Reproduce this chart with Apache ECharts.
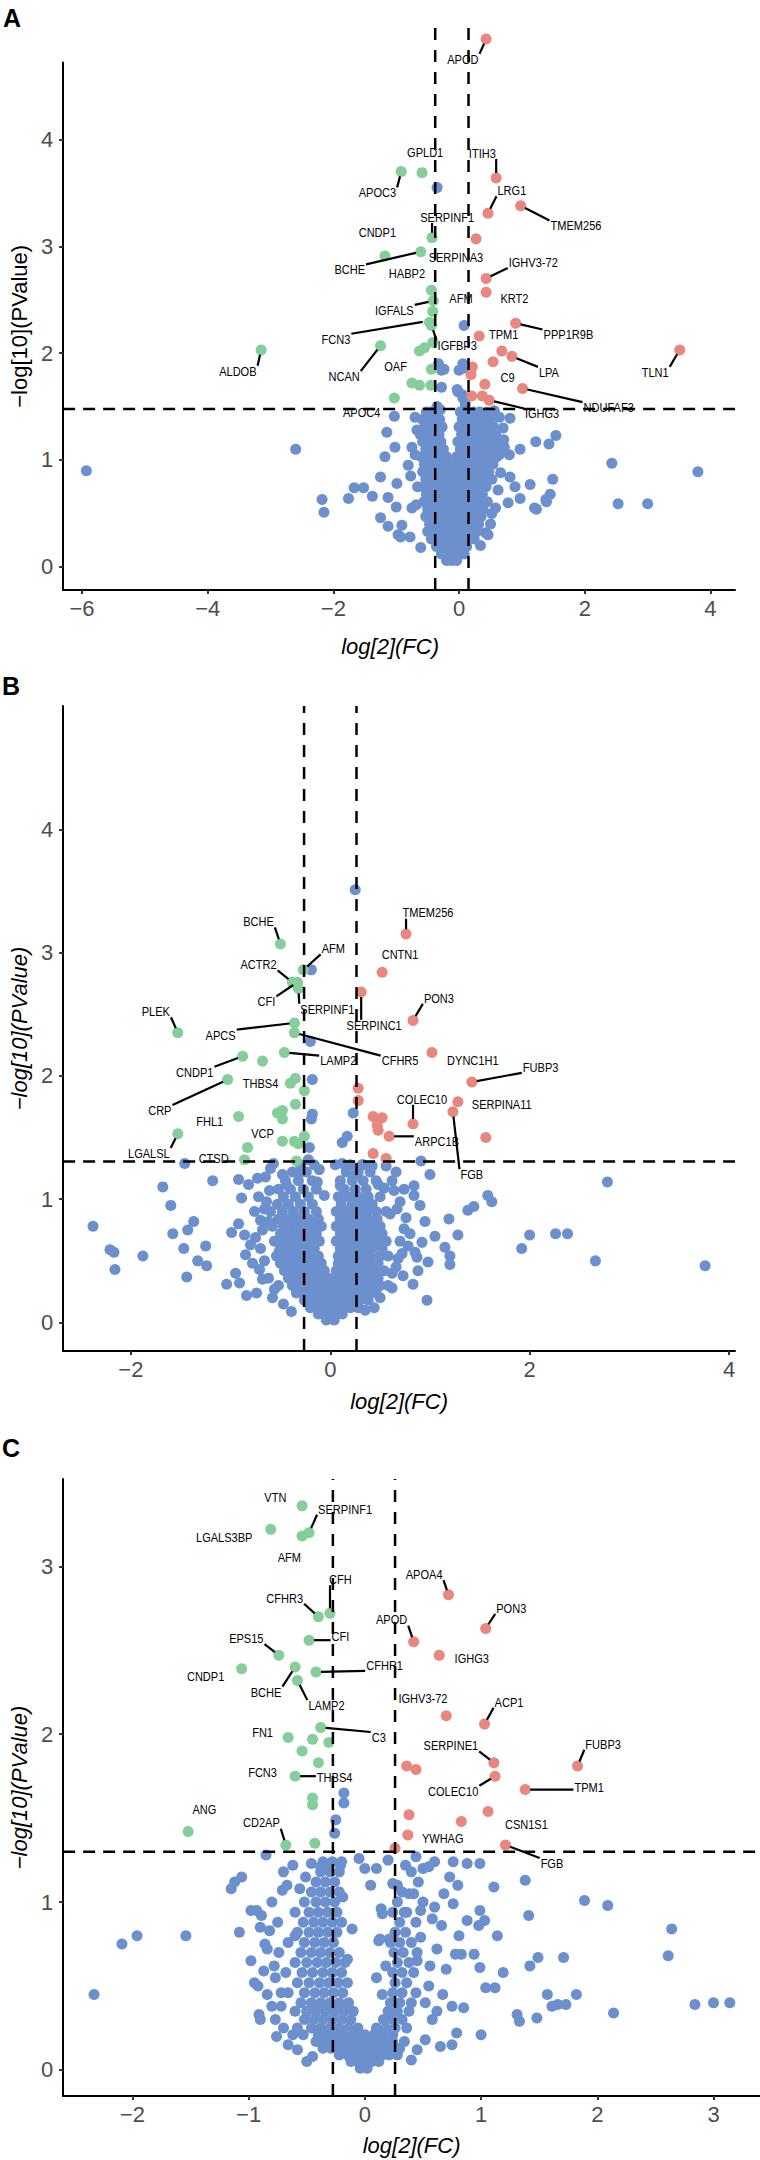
<!DOCTYPE html>
<html><head><meta charset="utf-8">
<script src="https://cdn.jsdelivr.net/npm/echarts@6/dist/echarts.min.js"></script>
<style>html,body{margin:0;padding:0;background:#fff}#c{width:760px;height:2160px}</style>
</head><body><div id="c"></div>
<script>
// ---------------- DATA ----------------
// Panel A
const redA = [[0.43,4.94],[0.59,3.64],[0.46,3.31],[0.98,3.38],[0.27,3.07],[0.43,2.70],[0.43,2.57],[0.90,2.28],[0.32,2.16],[0.68,2.02],[0.54,1.92],[0.84,1.97],[0.41,1.71],[1.01,1.67],[0.48,1.56],[3.51,2.03],[0.21,1.87],[0.19,1.80],[0.20,1.60],[0.37,1.60]];
const greenA = [[-0.59,3.69],[-0.92,3.70],[-0.43,3.08],[-1.18,2.91],[-0.61,2.95],[-0.44,2.59],[-0.41,2.49],[-0.42,2.39],[-0.47,2.29],[-0.44,2.26],[-0.42,2.10],[-0.63,2.02],[-0.55,2.05],[-0.44,1.85],[-0.75,1.72],[-0.63,1.70],[-0.45,1.70],[-1.03,1.58],[-1.25,2.07],[-3.15,2.03]];
const blueA = [[-0.35,3.55],[0.08,2.26],[-0.28,1.84],[0.08,1.86],[-0.28,1.68],[-0.03,1.66],[0.05,1.61],[-0.33,1.90],[-0.24,1.85],[0.06,1.90],[0.0,1.84],[-0.02,1.64],[0.06,1.58],[-0.35,1.50],[-0.30,1.47],[0.10,1.52],
[-5.93,0.90],[-2.60,1.10],[-2.18,0.63],[-2.15,0.51],[-1.76,0.64],[-1.67,0.74],[-1.52,0.74],[-1.38,0.66],[-1.13,0.65],[-1.25,0.46],[-1.13,0.38],[-1.00,0.56],[-0.99,0.78],[-1.25,0.84],[-1.18,1.03],[-1.02,1.12],[-1.15,1.26],[-1.03,1.41],[-0.77,0.85],[-0.91,0.39],[-0.97,0.30],[-0.75,0.55],[-0.61,0.18],[-0.93,0.28],[-0.78,0.28],[-0.75,1.12],[-0.81,0.95],[-0.70,1.40],
[2.43,0.97],[2.53,0.59],[3.00,0.59],[3.80,0.89],[1.54,1.23],[1.43,1.15],[1.22,1.17],[0.97,1.10],[0.71,1.19],[0.81,1.39],[0.81,0.84],[0.89,0.75],[1.13,0.77],[1.49,0.82],[1.38,0.63],[1.20,0.55],[0.78,0.60],[0.97,0.64],[0.52,0.50],[0.42,0.32],[0.34,0.20],[1.23,0.54],[1.39,0.61],[1.45,0.68],[0.80,1.05],[0.70,1.30],[0.64,1.40],
[-0.68,0.58],[-0.66,0.75],[-0.70,1.05],[-0.67,1.28],[0.62,0.72],[0.66,0.88],[0.64,1.05],[0.58,0.55],[0.50,0.40],[0.46,0.30],[0.72,1.12],[0.56,1.46]];
// dense core of panel A: [y, [x values]]
const coreA = [
 [1.45,[-0.52,-0.44,-0.37,0.02,0.12,0.22,0.33,0.45]],
 [1.38,[-0.58,-0.47,-0.40,-0.31,0.05,0.16,0.26,0.38,0.50]],
 [1.31,[-0.55,-0.45,-0.36,-0.27,0.0,0.10,0.20,0.30,0.42,0.55]],
 [1.24,[-0.62,-0.50,-0.41,-0.32,0.04,0.14,0.24,0.34,0.46,0.58]],
 [1.17,[-0.58,-0.47,-0.38,-0.29,-0.02,0.08,0.18,0.28,0.40,0.52,0.62]],
 [1.10,[-0.53,-0.43,-0.34,-0.25,0.02,0.12,0.22,0.33,0.45,0.56]],
 [1.03,[-0.60,-0.48,-0.39,-0.30,-0.20,-0.04,0.06,0.16,0.26,0.37,0.49,0.60]],
 [0.96,[-0.55,-0.44,-0.35,-0.26,-0.15,0.0,0.10,0.20,0.30,0.42,0.54]],
 [0.89,[-0.58,-0.49,-0.40,-0.31,-0.21,-0.10,0.04,0.14,0.24,0.35,0.47]],
 [0.82,[-0.53,-0.44,-0.35,-0.26,-0.16,-0.06,0.06,0.17,0.28,0.40,0.52]],
 [0.75,[-0.57,-0.47,-0.38,-0.29,-0.20,-0.10,0.0,0.10,0.20,0.31,0.43]],
 [0.68,[-0.52,-0.42,-0.33,-0.24,-0.14,-0.04,0.06,0.16,0.26,0.37]],
 [0.61,[-0.56,-0.46,-0.37,-0.28,-0.18,-0.08,0.02,0.12,0.22,0.33,0.45]],
 [0.54,[-0.50,-0.40,-0.31,-0.22,-0.12,-0.02,0.08,0.18,0.28,0.38]],
 [0.47,[-0.53,-0.43,-0.34,-0.25,-0.15,-0.05,0.05,0.15,0.25,0.35]],
 [0.40,[-0.47,-0.37,-0.28,-0.19,-0.09,0.01,0.11,0.21,0.31]],
 [0.33,[-0.50,-0.40,-0.31,-0.22,-0.12,-0.02,0.08,0.18,0.28]],
 [0.26,[-0.44,-0.34,-0.25,-0.16,-0.06,0.04,0.14,0.24]],
 [0.19,[-0.36,-0.27,-0.18,-0.08,0.02,0.12]],
 [0.12,[-0.28,-0.19,-0.10,0.0,0.08]],
 [0.06,[-0.20,-0.12,-0.04]]];
const labelsA = [
 ["APOD",0.43,4.94,0.06,4.75,1],["GPLD1",-0.59,3.69,-0.54,3.88,0],["APOC3",-0.92,3.70,-1.30,3.50,1],
 ["ITIH3",0.59,3.64,0.37,3.87,1],["LRG1",0.46,3.31,0.84,3.52,1],["TMEM256",0.98,3.38,1.86,3.19,1],
 ["SERPINF1",-0.43,3.08,-0.19,3.27,1],["CNDP1",-1.18,2.91,-1.30,3.13,0],["BCHE",-0.61,2.95,-1.74,2.78,1],
 ["HABP2",-0.83,2.74,-0.83,2.74,0],["SERPINA3",-0.05,2.89,-0.05,2.89,0],["IGHV3-72",0.43,2.70,1.18,2.85,1],
 ["AFM",0.03,2.51,0.03,2.51,0],["KRT2",0.88,2.51,0.88,2.51,0],["IGFALS",-0.41,2.49,-1.03,2.40,1],
 ["FCN3",-0.50,2.30,-1.96,2.13,1],["PPP1R9B",0.90,2.28,1.74,2.17,1],["TPM1",0.71,2.17,0.71,2.17,0],
 ["IGFBP3",-0.44,2.26,-0.03,2.07,1],["ALDOB",-3.15,2.03,-3.52,1.83,1],["NCAN",-1.25,2.07,-1.83,1.78,1],
 ["OAF",-1.01,1.87,-1.01,1.87,0],["LPA",0.84,1.97,1.43,1.82,1],["C9",0.77,1.77,0.77,1.77,0],
 ["TLN1",3.51,2.03,3.12,1.82,1],["NDUFAF3",1.01,1.67,2.38,1.49,1],["APOC4",-1.55,1.44,-1.55,1.44,0],
 ["IGHG3",0.48,1.56,1.32,1.43,1]];
// Panel B
const redB = [[0.76,3.15],[0.52,2.84],[0.31,2.68],[0.83,2.45],[1.02,2.19],[1.42,1.95],[1.28,1.79],[1.23,1.71],[0.83,1.61],[0.59,1.51],[0.28,1.90],[0.28,1.80],[0.43,1.67],[0.52,1.66],[0.47,1.60],[0.48,1.56],[1.56,1.50],[0.43,1.37],[0.56,1.33]];
const greenB = [[-0.50,3.07],[-0.27,2.86],[-0.38,2.76],[-0.33,2.76],[-0.32,2.71],[-1.53,2.35],[-0.36,2.43],[-0.36,2.35],[-0.46,2.19],[-0.88,2.16],[-0.68,2.12],[-1.03,1.97],[-0.35,1.98],[-0.40,1.94],[-0.26,1.88],[-0.35,1.77],[-0.53,1.70],[-0.48,1.72],[-0.48,1.65],[-0.92,1.67],[-1.53,1.53],[-0.48,1.47],[-0.36,1.47],[-0.32,1.45],[-0.26,1.51],[-0.83,1.42],[-0.86,1.32],[-0.34,1.31]];
const blueB = [[0.25,3.51],[-0.19,2.86],[-0.20,2.28],[-0.18,1.97],[-0.18,1.69],[-0.19,1.65],[0.23,1.70],[0.17,1.51],[0.12,1.46],[-0.21,1.42],[-0.22,1.32],[0.91,1.31],
[-2.38,0.78],[-2.21,0.59],[-2.17,0.57],[-2.16,0.43],[-1.88,0.54],[-1.68,1.10],[-1.60,0.95],[-1.58,0.72],[-1.47,0.60],[-1.44,0.37],[-1.43,0.75],[-1.37,0.82],[-1.46,1.29],[-1.33,0.50],[-1.25,0.62],[-1.24,0.46],[-1.18,1.15],[-1.04,0.31],[-0.99,0.73],[-0.92,0.80],[-0.91,0.32],[-0.92,1.16],[-0.89,1.01],[-0.86,0.71],[-0.80,0.63],[-0.75,0.69],[-0.74,0.24],[-0.73,1.17],[-0.71,0.43],[-0.70,0.83],[-0.66,0.92],[-0.61,1.07],[-0.57,1.29],[-0.56,0.27],[-0.51,0.58],[-0.48,1.20],[-0.44,1.12],[-0.39,0.09],[-0.32,1.20],[-0.66,0.50],[-0.62,0.36],
[2.78,1.14],[2.66,0.50],[3.76,0.46],[2.26,0.72],[2.38,0.72],[2.00,0.71],[1.92,0.60],[1.62,0.98],[1.58,1.03],[1.44,0.94],[1.38,0.91],[1.28,0.71],[1.19,0.84],[1.20,0.47],[1.15,0.61],[1.20,0.54],[0.97,0.18],[0.98,0.49],[0.87,0.53],[0.85,0.57],[1.00,1.20],[0.84,1.11],[0.84,1.03],[0.83,0.31],[0.73,0.38],[0.67,0.92],[0.64,1.07],[0.56,1.27],[0.42,1.27],[0.48,1.12],[0.54,1.09],[0.12,1.29],[0.10,1.11],[0.25,1.20],[-0.11,1.24],[-0.13,1.14],[-0.06,1.03],[0.70,0.66],[0.74,0.76],[0.62,0.28],[0.66,0.45],[0.72,0.56],
[-0.95,0.40],[-0.85,0.55],[-0.78,0.48],[-0.70,0.60],[-0.68,0.75],[-0.76,0.90],[-0.82,1.12],[-0.65,1.18],[-0.60,1.25],[-0.72,1.02],[-0.64,0.98],[-0.58,0.20],[-0.52,0.30],[-0.47,0.15],[-0.68,0.35],[-0.84,0.22],[-0.62,0.82],
[0.62,0.40],[0.68,0.52],[0.78,0.62],[0.76,0.85],[0.70,0.98],[0.62,1.15],[0.58,0.30],[0.50,0.20],[0.44,0.12],[0.80,0.72],[0.90,0.95],[0.92,0.65],[0.66,1.22],[0.54,0.66],[0.60,0.88],[0.74,1.08],[0.35,0.10],[0.32,1.28],[0.88,0.42],[0.95,0.82],[1.05,0.70]];
const coreB = [
 [0.02,[-0.04,0.04]],
 [0.07,[-0.12,-0.04,0.04,0.12]],
 [0.12,[-0.20,-0.12,-0.04,0.04,0.12,0.20,0.28]],
 [0.18,[-0.26,-0.18,-0.10,-0.02,0.06,0.14,0.22,0.30,0.38]],
 [0.24,[-0.34,-0.26,-0.18,-0.10,-0.02,0.06,0.14,0.22,0.30,0.38,0.46]],
 [0.30,[-0.38,-0.30,-0.22,-0.14,-0.06,0.02,0.10,0.18,0.26,0.34,0.42,0.50]],
 [0.36,[-0.42,-0.34,-0.26,-0.18,-0.10,-0.02,0.08,0.16,0.24,0.32,0.40,0.48]],
 [0.42,[-0.46,-0.38,-0.30,-0.22,-0.14,-0.06,0.06,0.14,0.22,0.30,0.38,0.46,0.54]],
 [0.48,[-0.50,-0.42,-0.34,-0.26,-0.18,-0.09,0.08,0.16,0.24,0.32,0.40,0.48]],
 [0.54,[-0.54,-0.45,-0.37,-0.29,-0.21,-0.12,0.08,0.16,0.24,0.32,0.40,0.50,0.58]],
 [0.60,[-0.50,-0.41,-0.33,-0.25,-0.16,0.10,0.18,0.26,0.34,0.42,0.52]],
 [0.66,[-0.56,-0.46,-0.37,-0.29,-0.20,-0.11,0.06,0.14,0.22,0.30,0.38,0.47,0.56]],
 [0.72,[-0.50,-0.41,-0.32,-0.23,-0.14,0.10,0.18,0.26,0.34,0.43,0.52]],
 [0.78,[-0.58,-0.47,-0.37,-0.28,-0.18,-0.09,0.06,0.15,0.24,0.33,0.42,0.50]],
 [0.84,[-0.52,-0.42,-0.32,-0.22,-0.12,0.10,0.20,0.29,0.38,0.47]],
 [0.90,[-0.60,-0.48,-0.37,-0.26,-0.14,0.06,0.16,0.26,0.36,0.46,0.56]],
 [0.96,[-0.53,-0.42,-0.30,-0.18,0.11,0.22,0.32,0.42]],
 [1.02,[-0.47,-0.35,-0.22,0.08,0.18,0.28,0.38,0.50]],
 [1.08,[-0.52,-0.40,-0.27,-0.14,0.14,0.25,0.36]],
 [1.15,[-0.45,-0.32,-0.18,0.10,0.22,0.33,0.46]],
 [1.22,[-0.38,-0.24,0.16,0.28,0.40]],
 [1.28,[-0.30,-0.16,0.05,0.20,0.33]]];
const labelsB = [
 ["TMEM256",0.76,3.15,0.98,3.32,1],["BCHE",-0.50,3.07,-0.72,3.25,1],["CNTN1",0.52,2.84,0.70,2.98,0],
 ["AFM",-0.27,2.86,0.03,3.03,1],["ACTR2",-0.38,2.76,-0.72,2.90,1],["CFI",-0.33,2.76,-0.64,2.60,1],
 ["SERPINF1",-0.32,2.71,-0.03,2.54,1],["SERPINC1",0.31,2.68,0.44,2.41,1],["PON3",0.83,2.45,1.09,2.63,1],
 ["PLEK",-1.53,2.35,-1.75,2.52,1],["APCS",-0.36,2.43,-1.10,2.33,1],["CFHR5",-0.36,2.35,0.70,2.12,1],
 ["LAMP2",-0.46,2.19,0.08,2.12,1],["DYNC1H1",1.43,2.12,1.43,2.12,0],["FUBP3",1.42,1.95,2.11,2.07,1],
 ["CNDP1",-0.88,2.16,-1.36,2.03,1],["THBS4",-0.70,1.94,-0.70,1.94,0],["CRP",-1.03,1.97,-1.71,1.72,1],
 ["COLEC10",0.83,1.61,0.92,1.81,1],["SERPINA11",1.72,1.77,1.72,1.77,0],["FHL1",-1.21,1.63,-1.21,1.63,0],
 ["VCP",-0.68,1.53,-0.68,1.53,0],["ARPC1B",0.59,1.51,1.07,1.47,1],["LGALSL",-1.53,1.53,-1.82,1.37,1],
 ["CTSD",-1.17,1.33,-1.17,1.33,0],["FGB",1.23,1.71,1.42,1.20,1]];
// Panel C
const redC = [[0.72,2.83],[1.04,2.63],[0.42,2.55],[0.64,2.47],[0.70,2.11],[1.03,2.06],[1.11,1.83],[1.83,1.81],[1.12,1.75],[1.38,1.67],[0.36,1.81],[0.44,1.79],[0.38,1.52],[0.83,1.48],[1.06,1.54],[0.37,1.40],[0.26,1.32],[1.21,1.34]];
const greenC = [[-0.54,3.36],[-0.48,3.20],[-0.81,3.22],[-0.54,3.18],[-0.30,2.72],[-0.40,2.70],[-0.48,2.56],[-0.74,2.47],[-1.06,2.39],[-0.42,2.37],[-0.60,2.40],[-0.58,2.32],[-0.66,1.98],[-0.38,2.04],[-0.45,1.97],[-0.31,1.95],[-0.54,1.90],[-0.40,1.83],[-0.60,1.75],[-0.45,1.62],[-0.45,1.58],[-1.52,1.42],[-0.68,1.34],[-0.43,1.35]];
const blueC = [[-0.18,1.65],[-0.18,1.59],[-0.25,1.49],[-0.26,1.41],
[-2.33,0.45],[-2.09,0.75],[-1.96,0.80],[-1.54,0.80],[-1.08,0.82],[-1.15,1.08],[-1.12,1.12],[-1.06,1.15],[-0.85,1.28],[-0.93,0.95],[-0.89,0.92],[-0.82,0.83],[-0.86,0.75],[-0.87,0.59],[-0.77,0.55],[-0.91,0.33],[-0.90,0.30],[-0.77,0.30],[-0.80,0.38],[-0.62,0.21],[-0.53,0.21],[-0.71,1.07],[-0.67,1.10],[-0.56,1.08],[-0.51,1.15],[-0.46,1.23],[-0.38,1.21],[-0.32,1.22],[-0.21,1.22],[-0.19,1.03],[-0.11,0.84],[-0.15,0.66],[-0.74,0.70],[-0.72,0.46],[-0.95,0.52],[-0.98,0.65],
[3.14,0.40],[3.00,0.40],[2.84,0.39],[2.64,0.84],[2.61,0.68],[2.14,0.34],[2.09,0.98],[1.89,1.01],[1.82,0.45],[1.73,0.39],[1.66,0.39],[1.61,0.38],[1.57,0.45],[1.71,0.67],[1.49,0.67],[1.42,0.62],[1.48,0.31],[1.33,0.29],[1.31,0.33],[1.19,0.58],[1.41,0.92],[1.38,1.13],[1.11,1.09],[1.14,0.80],[1.12,0.49],[1.04,0.49],[1.00,0.21],[0.99,0.61],[0.94,0.69],[0.99,0.95],[1.03,0.89],[0.98,0.86],[0.88,0.89],[0.81,0.80],[0.78,0.69],[0.83,0.69],[0.76,0.99],[0.80,1.10],[0.73,1.15],[0.76,1.24],[0.88,1.23],[0.99,1.23],[0.60,1.24],[0.50,1.00],[0.48,0.79],[0.60,0.97],[0.66,0.86],[0.67,0.45],[0.75,0.38],[0.85,0.37],[0.79,0.22],[0.65,0.14],[0.75,0.15],[0.44,1.27],[0.50,1.20],[0.55,1.21],[0.38,1.05],[0.42,1.05],[0.24,1.11],[0.14,0.96],[0.15,0.93],[0.12,0.77],[0.34,0.94],[0.13,0.78],[0.21,0.78],[0.56,0.62],[0.58,0.30],[0.52,0.18],
[-0.98,0.95],[-0.90,0.85],[-0.84,0.72],[-0.78,0.62],[-0.92,0.50],[-0.84,0.45],[-0.72,0.38],[-0.70,0.25],[-0.66,0.15],[-0.58,0.12],[-0.80,1.00],[-0.75,0.88],[-0.70,1.18],[-0.62,1.22],[-0.60,0.80],[-0.68,0.58],[-0.76,0.20],[-0.50,0.05],[-0.45,0.08],
[0.45,0.12],[0.40,0.06],[0.52,0.40],[0.55,0.50],[0.62,0.72],[0.58,0.90],[0.68,1.05],[0.70,0.60],[0.62,0.35],[0.45,0.65],[0.48,0.95],[0.40,1.18],[0.35,1.22],[0.28,1.10],[0.20,1.25],[0.10,1.20],[0.05,1.10],[0.00,1.20],[-0.05,1.26],[0.18,0.62],[0.15,0.45],[0.10,0.55]];
const coreC = [
 [0.01,[-0.04,0.02]],
 [0.05,[-0.12,-0.06,0.0,0.06,0.12]],
 [0.09,[-0.22,-0.15,-0.09,-0.03,0.03,0.09,0.15,0.21,0.28]],
 [0.13,[-0.36,-0.29,-0.22,-0.15,-0.09,-0.03,0.03,0.09,0.15,0.22,0.30]],
 [0.17,[-0.42,-0.34,-0.26,-0.19,-0.12,-0.05,0.02,0.09,0.16,0.24,0.34]],
 [0.21,[-0.40,-0.32,-0.24,-0.16,-0.08,0.0,0.08,0.16,0.24]],
 [0.25,[-0.58,-0.46,-0.38,-0.30,-0.22,-0.14,-0.06,0.10,0.18,0.26,0.36]],
 [0.30,[-0.52,-0.44,-0.36,-0.28,-0.20,-0.12,0.16,0.24,0.32]],
 [0.35,[-0.60,-0.50,-0.42,-0.34,-0.26,-0.18,-0.10,0.20,0.28,0.38]],
 [0.40,[-0.55,-0.46,-0.38,-0.30,-0.22,-0.14,0.22,0.30,0.40]],
 [0.46,[-0.66,-0.52,-0.43,-0.35,-0.27,-0.19,0.24,0.32,0.44]],
 [0.52,[-0.58,-0.48,-0.39,-0.31,-0.23,-0.15,0.26,0.36]],
 [0.58,[-0.54,-0.45,-0.36,-0.28,-0.20,0.24,0.32,0.42]],
 [0.64,[-0.60,-0.50,-0.41,-0.33,-0.25,-0.17,0.28,0.38]],
 [0.70,[-0.55,-0.46,-0.38,-0.30,-0.22,0.25,0.33,0.45]],
 [0.76,[-0.66,-0.52,-0.43,-0.35,-0.27,0.22,0.30,0.40]],
 [0.82,[-0.58,-0.48,-0.40,-0.32,-0.24,0.26,0.35]],
 [0.88,[-0.53,-0.44,-0.36,-0.28,-0.20,0.30,0.44]],
 [0.94,[-0.60,-0.48,-0.40,-0.32,-0.24,0.24,0.36]],
 [1.00,[-0.52,-0.42,-0.34,-0.26,0.28]],
 [1.06,[-0.46,-0.38,-0.30,-0.22,0.32]],
 [1.12,[-0.42,-0.34,-0.26,0.46]],
 [1.18,[-0.38,-0.30,-0.22]],
 [1.24,[-0.36,-0.28,-0.20]]];
const labelsC = [
 ["VTN",-0.54,3.36,-0.77,3.41,0],["SERPINF1",-0.48,3.20,-0.17,3.34,1],["LGALS3BP",-0.81,3.22,-1.21,3.17,0],
 ["AFM",-0.54,3.18,-0.65,3.05,0],["CFH",-0.30,2.72,-0.21,2.92,1],["CFHR3",-0.40,2.70,-0.69,2.81,1],
 ["CFI",-0.48,2.56,-0.21,2.58,1],["EPS15",-0.74,2.47,-1.02,2.57,1],["CNDP1",-1.06,2.39,-1.37,2.34,0],
 ["CFHR1",-0.42,2.37,0.17,2.41,1],["BCHE",-0.60,2.40,-0.85,2.25,1],["LAMP2",-0.58,2.32,-0.33,2.17,1],
 ["FN1",-0.66,1.98,-0.88,2.01,0],["C3",-0.38,2.04,0.12,1.98,1],["FCN3",-0.88,1.77,-0.88,1.77,0],
 ["THBS4",-0.60,1.75,-0.26,1.74,1],["ANG",-1.52,1.42,-1.38,1.55,0],["CD2AP",-0.68,1.34,-0.89,1.47,1],
 ["APOA4",0.72,2.83,0.51,2.95,1],["PON3",1.04,2.63,1.26,2.75,1],["APOD",0.42,2.55,0.23,2.68,1],
 ["IGHG3",0.64,2.47,0.92,2.45,0],["IGHV3-72",0.70,2.11,0.50,2.21,0],["ACP1",1.03,2.06,1.24,2.19,1],
 ["SERPINE1",1.11,1.83,0.74,1.93,1],["FUBP3",1.83,1.81,2.05,1.94,1],["COLEC10",1.12,1.75,0.76,1.66,1],
 ["TPM1",1.38,1.67,1.93,1.68,1],["CSN1S1",1.39,1.46,1.39,1.46,0],["YWHAG",0.67,1.38,0.67,1.38,0],
 ["FGB",1.21,1.34,1.61,1.23,1]];
// thresholds [low log2FC, high log2FC, -log10 p]
const thrA = [-0.38, 0.15, 1.477];
const thrB = [-0.263, 0.263, 1.305];
const thrC = [-0.275, 0.26, 1.30];
// tick labels
const xTicksA = [-6,-4,-2,0,2,4], yTicksA = [0,1,2,3,4];
const xTicksB = [-2,0,2,4],       yTicksB = [0,1,2,3,4];
const xTicksC = [-2,-1,0,1,2,3],  yTicksC = [0,1,2,3];

// ---------------- LAYOUT / STYLE ----------------
const FONT = '"Liberation Sans", Arial, Helvetica, sans-serif';
const COL = {red:'#E8877E', green:'#86CE99', blue:'#6B90CD'};
const rows = core => core.flatMap(r => r[1].map(x => [x, r[0]]));
const panels = [
 {grid:{left:53, top:62.6, width:682, height:527.4}, xr:[-6.30,4.39], yr:[-0.217,4.72], vTop:5.10, xt:xTicksA, yt:yTicksA, red:redA, green:greenA, blue:blueA.concat(rows(coreA)), labels:labelsA, thr:thrA, yItalic:false, xGap:45, xPad:[0,18,0,0]},
 {grid:{left:52, top:706, width:683, height:645}, xr:[-2.68,4.06], yr:[-0.231,5.0], vTop:5.0, xt:xTicksB, yt:yTicksB, red:redB, green:greenB, blue:blueB.concat(rows(coreB)), labels:labelsB, thr:thrB, yItalic:true, xGap:39, xPad:[0,0,0,0]},
 {grid:{left:51, top:1479, width:709, height:617}, xr:[-2.596,3.40], yr:[-0.155,3.52], vTop:3.52, xt:xTicksC, yt:yTicksC, red:redC, green:greenC, blue:blueC.concat(rows(coreC)), labels:labelsC, thr:thrC, yItalic:true, xGap:38, xPad:[0,0,0,0]}
];
const fmt = v => (v < 0 ? '\u2212' + Math.abs(v) : String(v));
const LFS = 13, LSX = 0.85;
const mctx = document.createElement('canvas').getContext('2d');
mctx.font = LFS + 'px ' + FONT;

const grids = [], xAxes = [], yAxes = [], series = [];
panels.forEach((p, i) => {
  grids.push(Object.assign({containLabel:false}, p.grid));
  xAxes.push({gridIndex:i, type:'value', min:p.xr[0], max:p.xr[1],
    splitLine:{show:false},
    axisLine:{onZero:false, lineStyle:{color:'#000', width:2}},
    axisTick:{length:4, lineStyle:{color:'#333', width:2}, customValues:p.xt},
    axisLabel:{customValues:p.xt, formatter:fmt, fontSize:22, color:'#4D4D4D', fontFamily:FONT, margin:7},
    name:'log[2](FC)', nameLocation:'middle', nameGap:p.xGap,
    nameTextStyle:{fontSize:22, fontStyle:'italic', color:'#000', fontFamily:FONT, padding:p.xPad}});
  yAxes.push({gridIndex:i, type:'value', min:p.yr[0], max:p.yr[1],
    splitLine:{show:false},
    axisLine:{onZero:false, lineStyle:{color:'#000', width:2}},
    axisTick:{length:4, lineStyle:{color:'#333', width:2}, customValues:p.yt},
    axisLabel:{customValues:p.yt, formatter:fmt, fontSize:22, color:'#4D4D4D', fontFamily:FONT, margin:10},
    name:'\u2212log[10](PValue)', nameLocation:'middle', nameGap:26, nameRotate:90,
    nameTextStyle:{fontSize:22, fontStyle:p.yItalic?'italic':'normal', color:'#000', fontFamily:FONT}});
  [['blue',p.blue],['green',p.green],['red',p.red]].forEach(([c, d]) => {
    series.push({type:'scatter', xAxisIndex:i, yAxisIndex:i, data:d, symbolSize:11, clip:false, silent:true,
      itemStyle:{color:COL[c], opacity:1}});
  });
  const dashV = {color:'#000', width:2.5, type:[12,10]};
  const dashH = {color:'#000', width:2.5, type:[12,8]};
  const lines = [
    [[p.thr[0], p.yr[0]], [p.thr[0], p.vTop], dashV],
    [[p.thr[1], p.yr[0]], [p.thr[1], p.vTop], dashV],
    [[p.xr[0], p.thr[2]], [p.xr[1], p.thr[2]], dashH]];
  lines.forEach(l => series.push({type:'line', xAxisIndex:i, yAxisIndex:i, data:[l[0], l[1]], symbol:'none',
    clip:false, silent:true, z:3, lineStyle:l[2]}));
  const labs = p.labels;
  series.push({type:'custom', xAxisIndex:i, yAxisIndex:i, clip:false, silent:true, z:5,
    data: labs.map(l => [l[1], l[2], l[3], l[4]]),
    renderItem: (params, api) => {
      const l = labs[params.dataIndex];
      const pt = api.coord([api.value(0), api.value(1)]);
      const tc = api.coord([api.value(2), api.value(3)]);
      const w = mctx.measureText(l[0]).width * LSX;
      const h = LFS * 0.85;
      const children = [];
      if (l[5]) {
        const x0 = tc[0] - w/2 - 1, x1 = tc[0] + w/2 + 1, y0 = tc[1] - h/2, y1 = tc[1] + h/2;
        const cx = Math.min(Math.max(pt[0], x0), x1), cy = Math.min(Math.max(pt[1], y0), y1);
        const dx = pt[0] - cx, dy = pt[1] - cy, len = Math.hypot(dx, dy);
        if (len > 7) {
          const r = 5;
          children.push({type:'line', shape:{x1:cx, y1:cy, x2:pt[0] - dx/len*r, y2:pt[1] - dy/len*r},
            style:{stroke:'#000', lineWidth:2.2}});
        }
      }
      children.push({type:'text', x:tc[0], y:tc[1], scaleX:LSX,
        style:{text:l[0], fill:'#000', font:LFS + 'px ' + FONT, align:'center', verticalAlign:'middle'}});
      return {type:'group', children};
    }});
});

const chart = echarts.init(document.getElementById('c'), null, {renderer:'svg', width:760, height:2160});
chart.setOption({
  animation:false, backgroundColor:'#fff',
  grid:grids, xAxis:xAxes, yAxis:yAxes, series:series,
  graphic:[
    {type:'text', left:3, top:5, style:{text:'A', font:'bold 25px ' + FONT, fill:'#000'}},
    {type:'text', left:2, top:673, style:{text:'B', font:'bold 25px ' + FONT, fill:'#000'}},
    {type:'text', left:2, top:1435, style:{text:'C', font:'bold 25px ' + FONT, fill:'#000'}}
  ]
});
</script></body></html>
